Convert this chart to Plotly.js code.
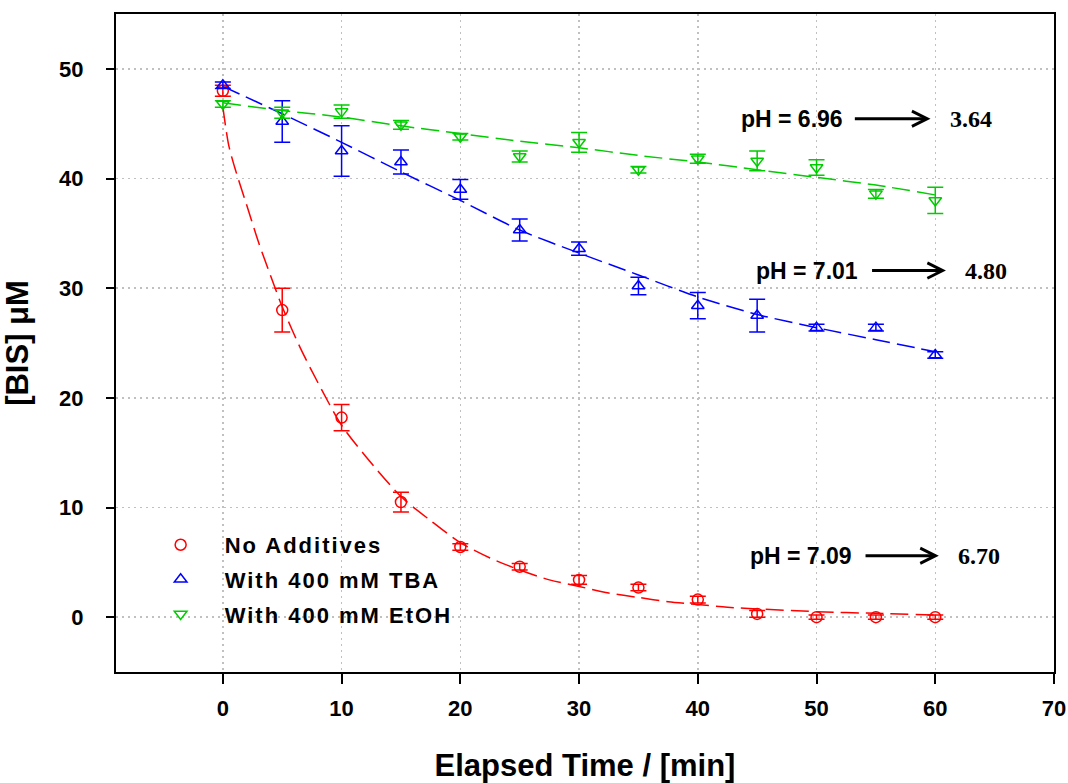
<!DOCTYPE html>
<html>
<head>
<meta charset="utf-8">
<script src="https://cdn.plot.ly/plotly-3.0.1.min.js"></script>
<style>
  html, body { margin: 0; padding: 0; background: #fff; }
  #chart { width: 1068px; height: 783px; }
  .legendtext { letter-spacing: 2px; }
</style>
</head>
<body>
<div id="chart"></div>
<script>
// ---- data ----
const time = [0, 5, 10, 15, 20, 25, 30, 35, 40, 45, 50, 55, 60];

const noAdditives    = [48.0, 28.0, 18.2, 10.5, 6.4, 4.6, 3.4, 2.7, 1.6, 0.3, 0.0, 0.0, 0.0];
const noAdditivesErr = [0.5, 2.0, 1.2, 0.9, 0.3, 0.3, 0.4, 0.3, 0.3, 0.3, 0.2, 0.2, 0.2];

const tba    = [48.5, 45.2, 42.5, 41.5, 39.0, 35.3, 33.6, 30.2, 28.4, 27.5, 26.4, 26.4, 23.9];
const tbaErr = [0.3, 1.9, 2.3, 1.1, 0.9, 1.0, 0.6, 0.8, 1.2, 1.5, 0.3, 0.3, 0.3];

const etoh    = [46.8, 46.0, 46.1, 44.9, 43.8, 42.0, 43.3, 40.8, 41.8, 41.6, 41.0, 38.6, 38.0];
const etohErr = [0.3, 0.5, 0.6, 0.4, 0.3, 0.5, 0.9, 0.3, 0.4, 0.9, 0.7, 0.4, 1.2];

// fitted curves
const fitTimeRed = [0, 0.5, 1, 2, 3, 4, 5, 6.5, 8, 10, 12, 15, 17.5, 20, 22.5, 25, 27.5, 30, 32.5, 35, 37.5, 40, 42.5, 45, 50, 55, 60];
const fitRed     = [46.5, 43.0, 41.0, 37.6, 34.2, 31.2, 28.3, 24.6, 21.4, 17.5, 14.7, 11.0, 8.8, 6.8, 5.4, 4.3, 3.4, 2.8, 2.2, 1.8, 1.4, 1.15, 0.9, 0.75, 0.5, 0.35, 0.2];
const fitTime    = [0, 5, 10, 15, 20, 25, 30, 35, 40, 45, 50, 55, 60];
const fitTBA     = [48.4, 45.9, 43.3, 40.6, 38.0, 35.3, 33.2, 31.2, 29.2, 27.6, 26.4, 25.3, 24.2];
const fitEtOH    = [46.9, 46.2, 45.6, 44.8, 44.1, 43.4, 42.8, 42.1, 41.5, 40.8, 40.1, 39.4, 38.5];

const seriesNames = ['No Additives', 'With 400 mM TBA', 'With 400 mM EtOH'];
const pHStart = ['6.96', '7.01', '7.09'];
const pHEnd   = ['3.64', '4.80', '6.70'];

// ---- styling ----
const RED = '#FF0000', BLUE = '#0000FF', GREEN = '#00CC00';
const SANS = 'Liberation Sans, Arial, sans-serif';
const SERIF = 'Liberation Serif, Times New Roman, serif';
const DASH = '18px,7px';

function fitTrace(x, y, color) {
  return {x: x, y: y, type: 'scatter', mode: 'lines', showlegend: false, hoverinfo: 'skip',
          line: {color: color, width: 1.5, dash: DASH, shape: 'spline', smoothing: 0.8}};
}
function dataTrace(y, err, name, color, symbol, group) {
  return {x: time, y: y, type: 'scatter', mode: 'markers', name: name, legendgroup: group,
          marker: {symbol: symbol, size: 11, color: color, line: {color: color, width: 1.5}},
          error_y: {type: 'data', array: err, visible: true, color: color, thickness: 1.5, width: 8}};
}

const traces = [
  fitTrace(fitTimeRed, fitRed, RED),
  fitTrace(fitTime, fitTBA, BLUE),
  fitTrace(fitTime, fitEtOH, GREEN),
  dataTrace(noAdditives, noAdditivesErr, seriesNames[0], RED, 'circle-open', 'a'),
  dataTrace(tba, tbaErr, seriesNames[1], BLUE, 'triangle-up-open', 'b'),
  dataTrace(etoh, etohErr, seriesNames[2], GREEN, 'triangle-down-open', 'c')
];

function pHAnnotations(i, yv, xText, xA0, xA1, xEnd) {
  return [
    {x: xText, y: yv, xref: 'x', yref: 'y', text: 'pH = ' + pHStart[i], showarrow: false,
     font: {family: SANS, size: 23, color: '#000', weight: 700}},
    {x: xA1, y: yv, ax: xA0, ay: yv, xref: 'x', yref: 'y', axref: 'x', ayref: 'y', text: '',
     showarrow: true, arrowhead: 5, arrowsize: 1, arrowwidth: 3, arrowcolor: '#000'},
    {x: xEnd, y: yv, xref: 'x', yref: 'y', text: pHEnd[i], showarrow: false,
     font: {family: SERIF, size: 24, color: '#000', weight: 700}}
  ];
}

const annotations = [].concat(
  pHAnnotations(0, 45.45, 47.9, 53.1, 59.6, 63.0),
  pHAnnotations(1, 31.6, 49.2, 54.55, 60.9, 64.25),
  pHAnnotations(2, 5.6, 48.7, 54.0, 60.3, 63.7)
);

const axisCommon = {
  showline: true, linecolor: '#000', linewidth: 2, mirror: true,
  ticks: 'outside', tickwidth: 2, tickcolor: '#000',
  showgrid: true, gridcolor: '#c0c0c0', gridwidth: 1.5, griddash: '2px,4px',
  zeroline: false, automargin: false,
  tickfont: {family: SANS, size: 22, color: '#000', weight: 700}
};

const layout = {
  width: 1068, height: 783,
  margin: {l: 116, r: 14, t: 14, b: 111},
  paper_bgcolor: '#fff', plot_bgcolor: '#fff',
  showlegend: true,
  legend: {x: 0.022, y: 0.225, xanchor: 'left', yanchor: 'top', bgcolor: 'rgba(0,0,0,0)',
           itemwidth: 78, traceorder: 'grouped', tracegroupgap: 3,
           font: {family: SANS, size: 22, color: '#000', weight: 700}},
  xaxis: Object.assign({}, axisCommon, {
    range: [-9, 70], dtick: 10, tick0: 0, ticklen: 10, ticklabelstandoff: 6,
    title: {text: 'Elapsed Time / [min]', standoff: 35, font: {family: SANS, size: 31, color: '#000', weight: 700}}
  }),
  yaxis: Object.assign({}, axisCommon, {
    range: [-5, 55], dtick: 10, tick0: 0, ticklen: 8, ticklabelstandoff: 18,
    title: {text: '[BIS] μM', standoff: 30, font: {family: SANS, size: 31, color: '#000', weight: 700}}
  }),
  annotations: annotations
};

Plotly.newPlot('chart', traces, layout, {displayModeBar: false, staticPlot: true});
</script>
</body>
</html>
